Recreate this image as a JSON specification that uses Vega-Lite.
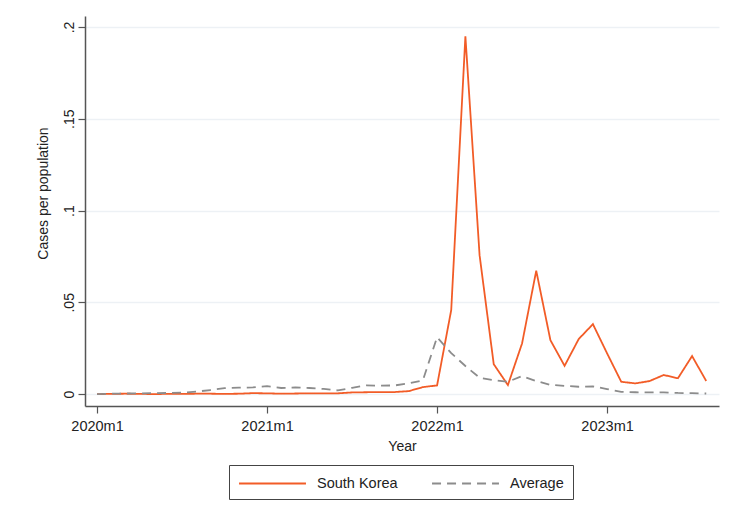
{
  "$schema": "https://vega.github.io/schema/vega-lite/v6.json",
  "width": 634,
  "height": 390,
  "autosize": {"type": "none"},
  "padding": {"left": 85, "top": 16, "right": 10, "bottom": 105},
  "background": "white",
  "config": {
    "view": {"stroke": null},
    "font": "Liberation Sans",
    "axis": {
      "labelFont": "Liberation Sans",
      "titleFont": "Liberation Sans",
      "labelColor": "#222222",
      "titleColor": "#222222",
      "titleFontWeight": "normal",
      "domainColor": "#555555",
      "domainWidth": 1.5,
      "tickColor": "#555555",
      "tickWidth": 1.2,
      "tickSize": 7
    },
    "legend": {
      "labelFont": "Liberation Sans",
      "labelFontSize": 14.5,
      "labelColor": "#222222"
    }
  },
  "data": {
    "values": [
      {"t": 0, "month": "2020m1", "South Korea": 0.0000, "Average": 0.0000},
      {"t": 1, "month": "2020m2", "South Korea": 0.0001, "Average": 0.0002},
      {"t": 2, "month": "2020m3", "South Korea": 0.0002, "Average": 0.0003},
      {"t": 3, "month": "2020m4", "South Korea": 0.0001, "Average": 0.0004},
      {"t": 4, "month": "2020m5", "South Korea": 0.0000, "Average": 0.0005},
      {"t": 5, "month": "2020m6", "South Korea": 0.0001, "Average": 0.0006},
      {"t": 6, "month": "2020m7", "South Korea": 0.0001, "Average": 0.0008},
      {"t": 7, "month": "2020m8", "South Korea": 0.0002, "Average": 0.0013},
      {"t": 8, "month": "2020m9", "South Korea": 0.0002, "Average": 0.0022},
      {"t": 9, "month": "2020m10", "South Korea": 0.0001, "Average": 0.0032},
      {"t": 10, "month": "2020m11", "South Korea": 0.0002, "Average": 0.0035},
      {"t": 11, "month": "2020m12", "South Korea": 0.0005, "Average": 0.0036},
      {"t": 12, "month": "2021m1", "South Korea": 0.0004, "Average": 0.0043},
      {"t": 13, "month": "2021m2", "South Korea": 0.0002, "Average": 0.0033},
      {"t": 14, "month": "2021m3", "South Korea": 0.0003, "Average": 0.0036},
      {"t": 15, "month": "2021m4", "South Korea": 0.0004, "Average": 0.0033},
      {"t": 16, "month": "2021m5", "South Korea": 0.0004, "Average": 0.0028},
      {"t": 17, "month": "2021m6", "South Korea": 0.0004, "Average": 0.0020},
      {"t": 18, "month": "2021m7", "South Korea": 0.0009, "Average": 0.0034},
      {"t": 19, "month": "2021m8", "South Korea": 0.0010, "Average": 0.0047},
      {"t": 20, "month": "2021m9", "South Korea": 0.0011, "Average": 0.0046},
      {"t": 21, "month": "2021m10", "South Korea": 0.0011, "Average": 0.0047},
      {"t": 22, "month": "2021m11", "South Korea": 0.0016, "Average": 0.0058},
      {"t": 23, "month": "2021m12", "South Korea": 0.0038, "Average": 0.0075},
      {"t": 24, "month": "2022m1", "South Korea": 0.0047, "Average": 0.0310},
      {"t": 25, "month": "2022m2", "South Korea": 0.0458, "Average": 0.0223},
      {"t": 26, "month": "2022m3", "South Korea": 0.1950, "Average": 0.0153},
      {"t": 27, "month": "2022m4", "South Korea": 0.0757, "Average": 0.0089},
      {"t": 28, "month": "2022m5", "South Korea": 0.0163, "Average": 0.0076},
      {"t": 29, "month": "2022m6", "South Korea": 0.0049, "Average": 0.0067},
      {"t": 30, "month": "2022m7", "South Korea": 0.0276, "Average": 0.0098},
      {"t": 31, "month": "2022m8", "South Korea": 0.0672, "Average": 0.0071},
      {"t": 32, "month": "2022m9", "South Korea": 0.0294, "Average": 0.0050},
      {"t": 33, "month": "2022m10", "South Korea": 0.0154, "Average": 0.0045},
      {"t": 34, "month": "2022m11", "South Korea": 0.0300, "Average": 0.0040},
      {"t": 35, "month": "2022m12", "South Korea": 0.0381, "Average": 0.0042},
      {"t": 36, "month": "2023m1", "South Korea": 0.0222, "Average": 0.0027},
      {"t": 37, "month": "2023m2", "South Korea": 0.0067, "Average": 0.0012},
      {"t": 38, "month": "2023m3", "South Korea": 0.0058, "Average": 0.0010},
      {"t": 39, "month": "2023m4", "South Korea": 0.0071, "Average": 0.0009},
      {"t": 40, "month": "2023m5", "South Korea": 0.0104, "Average": 0.0009},
      {"t": 41, "month": "2023m6", "South Korea": 0.0086, "Average": 0.0006},
      {"t": 42, "month": "2023m7", "South Korea": 0.0207, "Average": 0.0005},
      {"t": 43, "month": "2023m8", "South Korea": 0.0071, "Average": 0.0003}
    ]
  },
  "transform": [
    {"fold": ["South Korea", "Average"], "as": ["series", "value"]}
  ],
  "mark": {"type": "line", "strokeWidth": 1.8, "strokeJoin": "miter", "clip": true},
  "encoding": {
    "x": {
      "field": "t",
      "type": "quantitative",
      "scale": {"domain": [-0.85, 43.9], "nice": false, "zero": false},
      "axis": {
        "title": "Year",
        "titleFontSize": 14,
        "titlePadding": 7,
        "values": [0, 12, 24, 36],
        "labelExpr": "(2020 + datum.value / 12) + 'm1'",
        "labelFontSize": 14.5,
        "labelPadding": 6,
        "grid": false
      }
    },
    "y": {
      "field": "value",
      "type": "quantitative",
      "scale": {"domain": [-0.0065, 0.206], "nice": false, "zero": false},
      "axis": {
        "title": "Cases per population",
        "titleFontSize": 14,
        "titlePadding": 12,
        "titleY": 177,
        "values": [0, 0.05, 0.1, 0.15, 0.2],
        "labelExpr": "datum.value === 0 ? '0' : slice(format(datum.value, '.2~f'), 1)",
        "labelFontSize": 14,
        "labelAngle": -90,
        "labelAlign": "center",
        "labelBaseline": "bottom",
        "labelPadding": 2,
        "grid": true,
        "gridColor": "#edf1f5",
        "gridWidth": 1.5
      }
    },
    "color": {
      "field": "series",
      "type": "nominal",
      "scale": {"domain": ["South Korea", "Average"], "range": ["#F25C27", "#8C8C8C"]},
      "legend": {
        "title": null,
        "orient": "none",
        "legendX": 144,
        "legendY": 449,
        "direction": "horizontal",
        "symbolType": "M-4,0H4",
        "symbolSize": 280,
        "symbolOffset": 25,
        "symbolStrokeWidth": 2,
        "labelOffset": 35,
        "columnPadding": 30,
        "padding": 9,
        "strokeColor": "#444444",
        "fillColor": "white"
      }
    },
    "strokeDash": {
      "field": "series",
      "type": "nominal",
      "scale": {"domain": ["South Korea", "Average"], "range": [[1, 0], [9, 6]]},
      "legend": null
    }
  }
}
